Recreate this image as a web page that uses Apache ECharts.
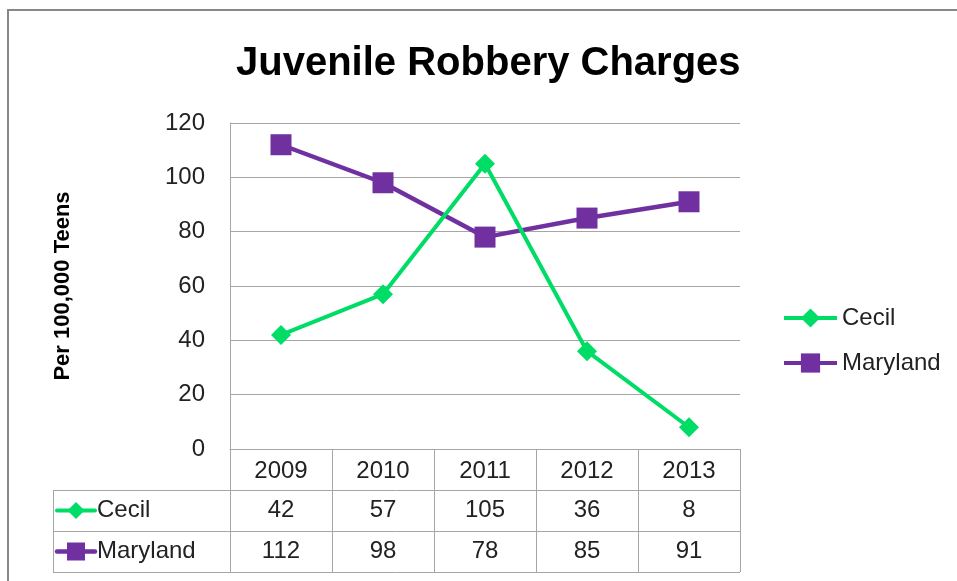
<!DOCTYPE html>
<html>
<head>
<meta charset="utf-8">
<script src="https://cdn.jsdelivr.net/npm/echarts@6/dist/echarts.min.js"></script>
<style>
  html, body { margin: 0; padding: 0; background: #ffffff; }
  #chart { width: 957px; height: 581px; }
</style>
</head>
<body>
<div id="chart"></div>
<script>
// Years on the category axis
const categories = ['2009', '2010', '2011', '2012', '2013'];
// Robbery charges per 100,000 teens
const cecil = [42, 57, 105, 36, 8];
const maryland = [112, 98, 78, 85, 91];
// Value axis range
const yMin = 0;
const yMax = 120;
const yStep = 20;

const FONT = 'Liberation Sans';
const GREEN = '#00DD66';
const PURPLE = '#7030A0';
const GRID_GRAY = '#A6A6A6';

const chart = echarts.init(document.getElementById('chart'), null, { renderer: 'canvas' });

const seriesDefs = [
  { name: 'Cecil', data: cecil, color: GREEN, symbol: 'diamond', size: 20, width: 4 },
  { name: 'Maryland', data: maryland, color: PURPLE, symbol: 'rect', size: 21, width: 4.5 }
];

chart.setOption({
  animation: false,
  backgroundColor: '#ffffff',
  textStyle: { fontFamily: FONT },
  title: {
    text: 'Juvenile Robbery Charges',
    left: 236,
    top: 44,
    padding: 0,
    textStyle: { fontFamily: FONT, fontSize: 40, fontWeight: 'bold', color: '#000000' }
  },
  legend: {
    orient: 'vertical',
    left: 782,
    top: 306,
    padding: 0,
    itemWidth: 53,
    itemHeight: 24,
    itemGap: 21,
    lineStyle: { width: 4 },
    textStyle: { fontFamily: FONT, fontSize: 24, color: '#222222' },
    data: ['Cecil', 'Maryland']
  },
  grid: { left: 230, right: 217, top: 123, bottom: 132, containLabel: false },
  xAxis: {
    type: 'category',
    data: categories,
    boundaryGap: true,
    axisLine: { show: true, lineStyle: { color: GRID_GRAY, width: 1 } },
    axisTick: { show: false },
    axisLabel: { margin: 10, fontFamily: FONT, fontSize: 24, color: '#222222' }
  },
  yAxis: {
    type: 'value',
    min: yMin,
    max: yMax,
    interval: yStep,
    name: 'Per 100,000 Teens',
    nameLocation: 'middle',
    nameRotate: 90,
    nameGap: 156,
    nameTextStyle: { fontFamily: FONT, fontSize: 22, fontWeight: 'bold', color: '#000000' },
    axisLine: { show: true, lineStyle: { color: GRID_GRAY, width: 1 } },
    axisTick: { show: false },
    splitLine: { show: true, lineStyle: { color: GRID_GRAY, width: 1 } },
    axisLabel: { margin: 25, fontFamily: FONT, fontSize: 24, color: '#222222' }
  },
  series: seriesDefs.map(s => ({
    name: s.name,
    type: 'line',
    data: s.data,
    symbol: s.symbol,
    symbolSize: s.size,
    showSymbol: true,
    color: s.color,
    itemStyle: { color: s.color, borderWidth: 0 },
    lineStyle: { color: s.color, width: s.width },
    z: s.name === 'Maryland' ? 2 : 3
  }))
});

// Data table under the plot, aligned to the category bands
function buildTable() {
  const p0 = chart.convertToPixel({ gridIndex: 0 }, [0, yMin]);
  const p1 = chart.convertToPixel({ gridIndex: 0 }, [1, yMin]);
  const band = p1[0] - p0[0];
  const plotLeft = p0[0] - band / 2;
  const plotRight = plotLeft + band * categories.length;
  const top = p0[1];
  const rowH = 41;
  const tableLeft = 53;
  const lineStyle = { stroke: GRID_GRAY, lineWidth: 1 };
  const els = [];
  const crisp = v => Math.round(v) + 0.5;

  // horizontal rules
  [1, 2, 3].forEach(r => {
    const y = crisp(top + r * rowH);
    els.push({ type: 'line', shape: { x1: tableLeft, y1: y, x2: plotRight, y2: y }, style: lineStyle, silent: true });
  });
  // vertical rules at band edges
  for (let i = 0; i <= categories.length; i++) {
    const x = crisp(plotLeft + i * band);
    els.push({ type: 'line', shape: { x1: x, y1: top, x2: x, y2: top + 3 * rowH }, style: lineStyle, silent: true });
  }
  // left edge of the series-name column
  els.push({ type: 'line', shape: { x1: crisp(tableLeft), y1: top + rowH, x2: crisp(tableLeft), y2: top + 3 * rowH }, style: lineStyle, silent: true });

  seriesDefs.forEach((s, r) => {
    const cy = top + (r + 1.5) * rowH;
    // key: line with marker
    els.push({ type: 'line', shape: { x1: tableLeft + 4, y1: cy, x2: tableLeft + 42, y2: cy },
      style: { stroke: s.color, lineWidth: s.width, lineCap: 'round' }, silent: true });
    const ms = s.symbol === 'diamond' ? 17 : 18;
    if (s.symbol === 'diamond') {
      els.push({ type: 'polygon', shape: { points: [[tableLeft + 23, cy - ms / 2], [tableLeft + 23 + ms / 2, cy], [tableLeft + 23, cy + ms / 2], [tableLeft + 23 - ms / 2, cy]] },
        style: { fill: s.color }, silent: true });
    } else {
      els.push({ type: 'rect', shape: { x: tableLeft + 23 - ms / 2, y: cy - ms / 2, width: ms, height: ms },
        style: { fill: s.color }, silent: true });
    }
    els.push({ type: 'text', x: tableLeft + 44, y: cy,
      style: { text: s.name, font: '24px "' + FONT + '"', fill: '#222222', textAlign: 'left', textVerticalAlign: 'middle' }, silent: true });
    s.data.forEach((v, i) => {
      els.push({ type: 'text', x: plotLeft + (i + 0.5) * band, y: cy,
        style: { text: String(v), font: '24px "' + FONT + '"', fill: '#222222', textAlign: 'center', textVerticalAlign: 'middle' }, silent: true });
    });
  });

  // outer chart border
  els.push({ type: 'rect', shape: { x: 8, y: 10, width: 1200, height: 1000 },
    style: { fill: 'none', stroke: '#888888', lineWidth: 2 }, silent: true });

  chart.setOption({ graphic: els });
}
buildTable();
</script>
</body>
</html>
